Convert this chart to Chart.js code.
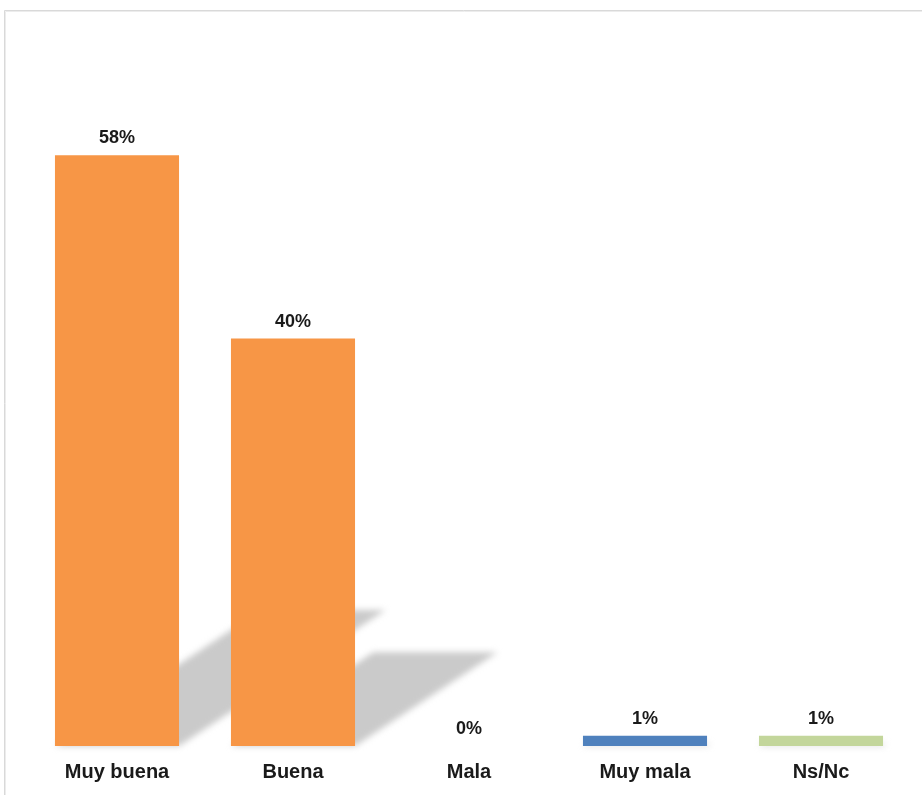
<!DOCTYPE html>
<html>
<head>
<meta charset="utf-8">
<script src="https://cdn.jsdelivr.net/npm/chart.js@4/dist/chart.umd.min.js"></script>
<style>
html,body{margin:0;padding:0;background:#ffffff;}
#wrap{position:relative;width:922px;height:795px;}
</style>
</head>
<body>
<div id="wrap"><canvas id="c" width="922" height="795"></canvas></div>
<script>
const categories = ["Muy buena", "Buena", "Mala", "Muy mala", "Ns/Nc"];
const values = [58, 40, 0, 1, 1];
const valueLabels = ["58%", "40%", "0%", "1%", "1%"];
const barColors = ["#F79646", "#F79646", "#F79646", "#4F81BD", "#C3D69B"];

const framePlugin = {
  id: 'frame',
  beforeDraw(chart) {
    const ctx = chart.ctx;
    ctx.save();
    ctx.fillStyle = '#ffffff';
    ctx.fillRect(0, 0, chart.width, chart.height);
    ctx.strokeStyle = '#d9d9d9';
    ctx.lineWidth = 1;
    ctx.beginPath();
    ctx.moveTo(4.5, chart.height + 5);
    ctx.lineTo(4.5, 10.5);
    ctx.lineTo(chart.width + 5, 10.5);
    ctx.stroke();
    ctx.strokeStyle = '#ececec';
    ctx.beginPath();
    ctx.moveTo(5.5, chart.height + 5);
    ctx.lineTo(5.5, 11.5);
    ctx.lineTo(chart.width + 5, 11.5);
    ctx.stroke();
    ctx.restore();
  }
};

const shadowPlugin = {
  id: 'barShadow',
  beforeDatasetsDraw(chart) {
    const ctx = chart.ctx;
    const meta = chart.getDatasetMeta(0);
    ctx.save();
    ctx.filter = 'blur(3px)';
    ctx.fillStyle = '#cacaca';
    meta.data.forEach(bar => {
      const h = bar.base - bar.y;
      if (h <= 0) return;
      const dy = 0.23 * h;
      const dx = 1.52 * dy;
      const l = bar.x - bar.width / 2, r = bar.x + bar.width / 2;
      ctx.beginPath();
      ctx.moveTo(l, bar.base);
      ctx.lineTo(r, bar.base);
      ctx.lineTo(r + dx, bar.base - dy);
      ctx.lineTo(l + dx, bar.base - dy);
      ctx.closePath();
      ctx.fill();
    });
    ctx.restore();
  }
};

const labelPlugin = {
  id: 'valueLabels',
  afterDatasetsDraw(chart) {
    const ctx = chart.ctx;
    const meta = chart.getDatasetMeta(0);
    ctx.save();
    ctx.fillStyle = '#1a1a1a';
    ctx.font = 'bold 18px "Liberation Sans", Arial, sans-serif';
    ctx.textAlign = 'center';
    ctx.textBaseline = 'alphabetic';
    meta.data.forEach((bar, i) => {
      ctx.fillText(valueLabels[i], bar.x, Math.min(bar.y, bar.base) - 12);
    });
    ctx.restore();
  }
};

new Chart(document.getElementById('c'), {
  type: 'bar',
  data: {
    labels: categories,
    datasets: [{
      data: values,
      backgroundColor: barColors,
      borderWidth: 0,
      categoryPercentage: 1.0,
      barPercentage: 0.705
    }]
  },
  options: {
    responsive: false,
    animation: false,
    devicePixelRatio: 1,
    layout: { padding: { left: 29, right: 13, top: 33, bottom: -3 } },
    plugins: { legend: { display: false }, tooltip: { enabled: false } },
    scales: {
      x: {
        grid: { display: false, drawTicks: false },
        border: { display: false },
        ticks: {
          padding: 14,
          color: '#1a1a1a',
          font: { family: '"Liberation Sans", Arial, sans-serif', size: 20, weight: 'bold' }
        }
      },
      y: {
        display: false,
        min: 0,
        max: 70
      }
    }
  },
  plugins: [framePlugin, shadowPlugin, labelPlugin]
});
</script>
</body>
</html>
